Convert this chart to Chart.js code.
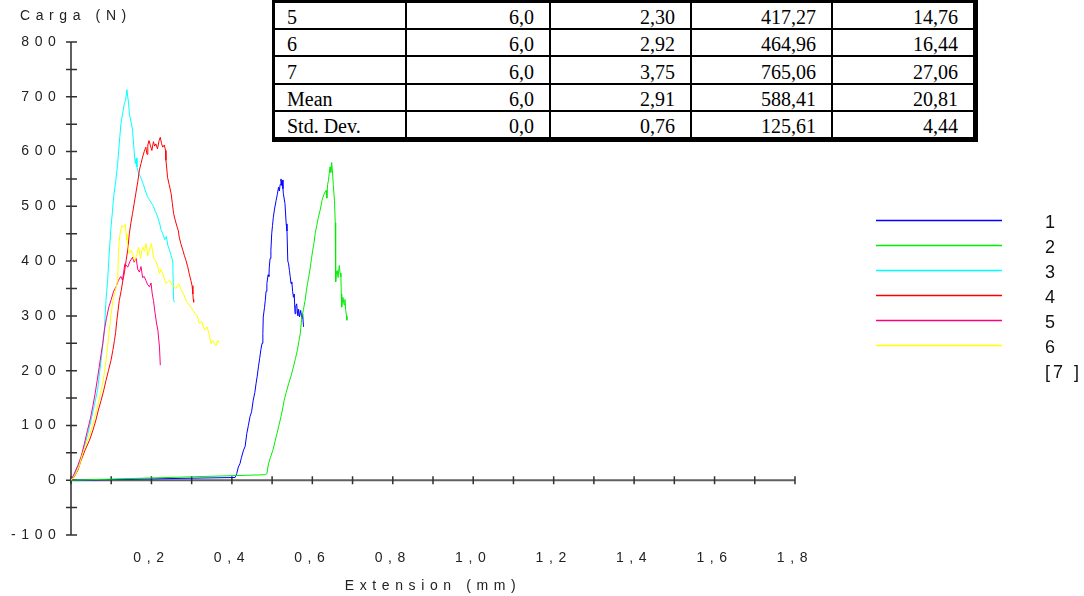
<!DOCTYPE html>
<html>
<head>
<meta charset="utf-8">
<script src="https://cdn.jsdelivr.net/npm/chart.js@4.4.1/dist/chart.umd.min.js"></script>
<style>
  html, body { margin: 0; padding: 0; background: #fff; }
  #wrap { position: relative; width: 1084px; height: 596px; overflow: hidden; }
  #chart { position: absolute; left: 0; top: 0; }
  #stats {
    position: absolute; left: 272px; top: 0; width: 706px;
    border-collapse: separate; border-spacing: 0; table-layout: fixed;
    background: #fff; color: #000;
    border-left: 3px solid #000; border-top: 3px solid #000;
    font: 20px "Liberation Serif", "Times New Roman", serif;
  }
  #stats td {
    box-sizing: border-box; height: 27px;
    border-right: 2px solid #000; border-bottom: 2px solid #000;
    padding: 3px 15px 0 12px; line-height: 20px;
    text-align: right; white-space: nowrap; vertical-align: middle;
  }
  #stats td:first-child { text-align: left; }
  #stats td:last-child { border-right-width: 5px; }
  #stats tr.tall td { height: 28px; }
  #stats tr:last-child td { border-bottom-width: 5px; height: 30px; }
</style>
</head>
<body>
<div id="wrap">
  <canvas id="chart" width="1084" height="596"></canvas>
  <table id="stats"></table>
</div>
<script>
// curves: [extension (mm), carga (N)]
const spec1 = [[0,0],[0.408,5],[0.412,12],[0.416,24],[0.420,30],[0.424,42],[0.429,55],[0.433,62],[0.437,85],[0.441,100],[0.445,116],[0.449,125],[0.453,146],[0.457,160],[0.460,176],[0.463,190],[0.466,207],[0.469,222],[0.472,238],[0.475,250],[0.477,268],[0.478,298],[0.481,315],[0.483,328],[0.485,345],[0.487,359],[0.490,375],[0.492,372],[0.493,389],[0.495,405],[0.497,420],[0.499,450],[0.501,465],[0.503,480],[0.506,495],[0.510,511],[0.513,522],[0.516,535],[0.518,528],[0.520,540],[0.522,550],[0.524,538],[0.525,548],[0.527,532],[0.528,523],[0.532,505],[0.535,468],[0.537,455],[0.539,400],[0.541,395],[0.543,383],[0.545,372],[0.547,359],[0.549,362],[0.551,345],[0.553,334],[0.555,340],[0.557,304],[0.559,318],[0.561,322],[0.564,300],[0.566,312],[0.568,298],[0.571,310],[0.574,295],[0.576,304],[0.578,280]];
const spec2 = [[0,0],[0.483,10],[0.487,12],[0.491,30],[0.496,42],[0.502,55],[0.507,70],[0.512,85],[0.517,100],[0.522,116],[0.526,130],[0.530,146],[0.535,160],[0.541,176],[0.547,190],[0.553,207],[0.558,222],[0.563,238],[0.567,255],[0.570,268],[0.574,298],[0.578,312],[0.582,328],[0.585,345],[0.588,359],[0.592,375],[0.595,389],[0.598,405],[0.601,420],[0.604,432],[0.607,450],[0.611,465],[0.615,480],[0.620,495],[0.624,511],[0.629,522],[0.634,529],[0.636,515],[0.638,540],[0.640,547],[0.642,560],[0.644,572],[0.646,562],[0.648,580],[0.650,565],[0.652,540],[0.655,511],[0.657,470],[0.658,362],[0.660,380],[0.662,383],[0.664,370],[0.667,392],[0.669,378],[0.671,371],[0.672,340],[0.673,316],[0.676,334],[0.679,320],[0.681,330],[0.683,310],[0.685,300],[0.686,292]];
const spec3 = [[0,0],[0.008,10],[0.017,24],[0.025,40],[0.033,61],[0.042,85],[0.050,110],[0.058,137],[0.066,164],[0.070,190],[0.075,219],[0.079,246],[0.083,274],[0.087,328],[0.091,365],[0.095,414],[0.0995,462],[0.103,490],[0.106,517],[0.111,545],[0.116,578],[0.120,615],[0.124,650],[0.1285,670],[0.1327,688],[0.136,695],[0.139,713],[0.141,700],[0.143,690],[0.145,670],[0.149,655],[0.153,640],[0.156,610],[0.158,590],[0.160,578],[0.162,588],[0.164,572],[0.168,560],[0.172,555],[0.176,548],[0.180,540],[0.185,528],[0.190,518],[0.195,512],[0.200,506],[0.205,500],[0.210,490],[0.215,482],[0.220,470],[0.224,457],[0.228,450],[0.233,439],[0.237,445],[0.241,428],[0.245,420],[0.249,410],[0.253,400],[0.255,330],[0.257,325]];
const spec4 = [[0,0],[0.008,6],[0.017,18],[0.025,36],[0.035,55],[0.046,73],[0.054,90],[0.062,110],[0.068,128],[0.075,146],[0.081,163],[0.087,182],[0.093,200],[0.0995,219],[0.104,237],[0.108,255],[0.111,270],[0.114,292],[0.117,310],[0.120,328],[0.125,347],[0.129,365],[0.133,380],[0.137,401],[0.141,420],[0.145,450],[0.149,470],[0.153,487],[0.157,505],[0.161,523],[0.166,545],[0.170,566],[0.174,578],[0.178,590],[0.182,600],[0.186,608],[0.189,595],[0.191,612],[0.194,620],[0.197,612],[0.201,602],[0.205,618],[0.208,610],[0.211,614],[0.215,605],[0.219,620],[0.222,626],[0.225,615],[0.228,608],[0.232,612],[0.235,602],[0.236,584],[0.238,570],[0.240,553],[0.244,540],[0.249,523],[0.252,505],[0.255,487],[0.259,475],[0.264,462],[0.267,455],[0.269,444],[0.273,432],[0.278,420],[0.282,410],[0.286,401],[0.290,390],[0.294,377],[0.298,365],[0.301,355],[0.303,340],[0.304,330],[0.305,325]];
const spec5 = [[0,0],[0.008,12],[0.017,27],[0.025,43],[0.033,66],[0.041,91],[0.048,112],[0.054,134],[0.060,158],[0.065,182],[0.070,206],[0.075,231],[0.079,250],[0.083,274],[0.088,295],[0.094,316],[0.100,330],[0.106,345],[0.112,353],[0.118,365],[0.124,372],[0.128,365],[0.134,395],[0.141,389],[0.147,400],[0.153,407],[0.157,398],[0.162,405],[0.166,385],[0.170,380],[0.174,390],[0.178,370],[0.182,372],[0.186,365],[0.190,358],[0.195,353],[0.199,360],[0.202,340],[0.205,328],[0.209,305],[0.213,285],[0.216,274],[0.218,258],[0.220,243],[0.222,210]];
const spec6 = [[0,0],[0.006,5],[0.012,12],[0.020,25],[0.029,49],[0.040,70],[0.050,91],[0.058,112],[0.066,134],[0.073,158],[0.080,182],[0.085,206],[0.089,231],[0.093,258],[0.097,286],[0.100,305],[0.104,328],[0.110,345],[0.116,365],[0.118,414],[0.120,438],[0.122,450],[0.126,465],[0.130,462],[0.135,467],[0.137,450],[0.139,438],[0.142,425],[0.145,414],[0.149,420],[0.153,414],[0.158,400],[0.163,410],[0.168,425],[0.173,405],[0.178,426],[0.183,418],[0.187,432],[0.191,410],[0.195,420],[0.200,432],[0.205,407],[0.211,400],[0.216,389],[0.220,377],[0.224,385],[0.228,377],[0.236,359],[0.245,365],[0.252,355],[0.261,350],[0.268,359],[0.274,347],[0.280,340],[0.286,328],[0.292,322],[0.298,316],[0.303,310],[0.309,304],[0.314,300],[0.319,286],[0.325,290],[0.332,274],[0.338,280],[0.344,265],[0.348,249],[0.352,255],[0.356,250],[0.360,245],[0.365,255],[0.369,250]];
const spec7 = [];

const specimens = [spec1, spec2, spec3, spec4, spec5, spec6, spec7];
const specNames = ['1', '2', '3', '4', '5', '6', '[7 ]'];
const specColors = ['#0000ff', '#00ee00', '#00ffff', '#ff0000', '#ff0080', '#ffff00', '#000000'];

const xMin = 0, xMax = 1.8, xStep = 0.1;
const yMin = -100, yMax = 800, yStep = 50;
const yTitle = 'Carga (N)';
const xTitle = 'Extension (mm)';

const tableRows = [
    ['5', '6,0', '2,30', '417,27', '14,76'],
    ['6', '6,0', '2,92', '464,96', '16,44'],
    ['7', '6,0', '3,75', '765,06', '27,06'],
    ['Mean', '6,0', '2,91', '588,41', '20,81'],
    ['Std. Dev.', '0,0', '0,76', '125,61', '4,44']
];
const colWidths = [132, 144, 141, 141, 145];

// results table
const table = document.getElementById('stats');
tableRows.forEach((row, r) => {
    const tr = document.createElement('tr');
    if (r === 2) tr.className = 'tall';
    row.forEach((txt, c) => {
        const td = document.createElement('td');
        td.textContent = txt;
        td.style.width = colWidths[c] + 'px';
        tr.appendChild(td);
    });
    table.appendChild(tr);
});

const labelFont = { family: '"Liberation Sans", Arial, sans-serif', size: 14, weight: 'normal' };
const letterGap = '5.6px';

// spaced-out lettering like the original plot
const spacing = {
    id: 'spacing',
    beforeLayout(chart) { chart.ctx.letterSpacing = letterGap; },
    beforeDraw(chart) { chart.ctx.letterSpacing = letterGap; }
};

// axes cross at the origin, ticks cross the axis line; y caption on top
const crossAxes = {
    id: 'crossAxes',
    beforeDatasetsDraw(chart) {
        const { ctx, scales: { x, y } } = chart;
        const x0 = x.getPixelForValue(0);
        const y0 = y.getPixelForValue(0);
        ctx.save();
        ctx.strokeStyle = '#606060';
        ctx.lineWidth = 2;
        ctx.beginPath();
        ctx.moveTo(x0, y.top);
        ctx.lineTo(x0, y.bottom);
        ctx.moveTo(x.left, y0);
        ctx.lineTo(x.right, y0);
        ctx.stroke();

        ctx.strokeStyle = '#303030';
        ctx.lineWidth = 1.5;
        ctx.beginPath();
        y.ticks.forEach(t => {
            const p = y.getPixelForValue(t.value);
            ctx.moveTo(x0 - 5, p);
            ctx.lineTo(x0 + 6, p);
        });
        x.ticks.forEach(t => {
            const p = x.getPixelForValue(t.value);
            ctx.moveTo(p, y0 - 4);
            ctx.lineTo(p, y0 + 4);
        });
        ctx.stroke();

        ctx.letterSpacing = letterGap;
        ctx.font = '14px "Liberation Sans", Arial, sans-serif';
        ctx.fillStyle = '#222';
        ctx.textAlign = 'left';
        ctx.textBaseline = 'middle';
        ctx.fillText(yTitle, 20, 16);
        ctx.restore();
    }
};

// legend on the right: line sample then name
const sideLegend = {
    id: 'sideLegend',
    afterDraw(chart, args, opts) {
        const ctx = chart.ctx;
        ctx.save();
        ctx.letterSpacing = '3px';
        ctx.font = '18px "Liberation Sans", Arial, sans-serif';
        ctx.textAlign = 'left';
        ctx.textBaseline = 'alphabetic';
        ctx.fillStyle = '#111';
        chart.data.datasets.forEach((ds, i) => {
            const yy = opts.top + i * opts.gap;
            if (ds.data.length) {
                ctx.strokeStyle = ds.borderColor;
                ctx.lineWidth = 1.6;
                ctx.beginPath();
                ctx.moveTo(opts.lineFrom, yy + 0.5);
                ctx.lineTo(opts.lineTo, yy + 0.5);
                ctx.stroke();
            }
            ctx.fillText(ds.label, opts.textX, yy + 8);
        });
        ctx.restore();
    }
};

new Chart(document.getElementById('chart'), {
    type: 'scatter',
    data: {
        datasets: specimens.map((s, i) => ({
            label: specNames[i],
            data: s.map(p => ({ x: p[0], y: p[1] })),
            showLine: true,
            borderColor: specColors[i],
            backgroundColor: specColors[i],
            borderWidth: 1,
            pointRadius: 0,
            fill: false,
            tension: 0,
            order: specimens.length - i
        }))
    },
    options: {
        responsive: false,
        animation: false,
        layout: { padding: { left: 0, right: 289, top: 42, bottom: 0 } },
        plugins: {
            legend: { display: false },
            tooltip: { enabled: false },
            title: { display: false },
            sideLegend: { top: 220, gap: 25, lineFrom: 876, lineTo: 1002, textX: 1045 }
        },
        scales: {
            x: {
                type: 'linear',
                position: 'bottom',
                min: xMin,
                max: xMax,
                border: { display: false },
                grid: { display: false, drawTicks: false },
                ticks: {
                    stepSize: xStep,
                    autoSkip: false,
                    maxRotation: 0,
                    padding: 15,
                    color: '#222',
                    font: labelFont,
                    callback: v => {
                        const k = Math.round(v * 10);
                        return (k > 0 && k % 2 === 0) ? (k / 10).toFixed(1).replace('.', ',') : '';
                    }
                },
                title: {
                    display: true,
                    text: xTitle,
                    color: '#222',
                    font: labelFont,
                    padding: { top: 0, bottom: 1.5 }
                },
                afterFit: s => { s.height = 61; }
            },
            y: {
                type: 'linear',
                min: yMin,
                max: yMax,
                border: { display: false },
                grid: { display: false, drawTicks: false },
                ticks: {
                    stepSize: yStep,
                    autoSkip: false,
                    padding: 9.5,
                    color: '#222',
                    font: labelFont,
                    callback: v => (v % 100 === 0 ? String(v) : '')
                },
                afterFit: s => { s.width = 71; }
            }
        }
    },
    plugins: [spacing, crossAxes, sideLegend]
});
</script>
</body>
</html>
